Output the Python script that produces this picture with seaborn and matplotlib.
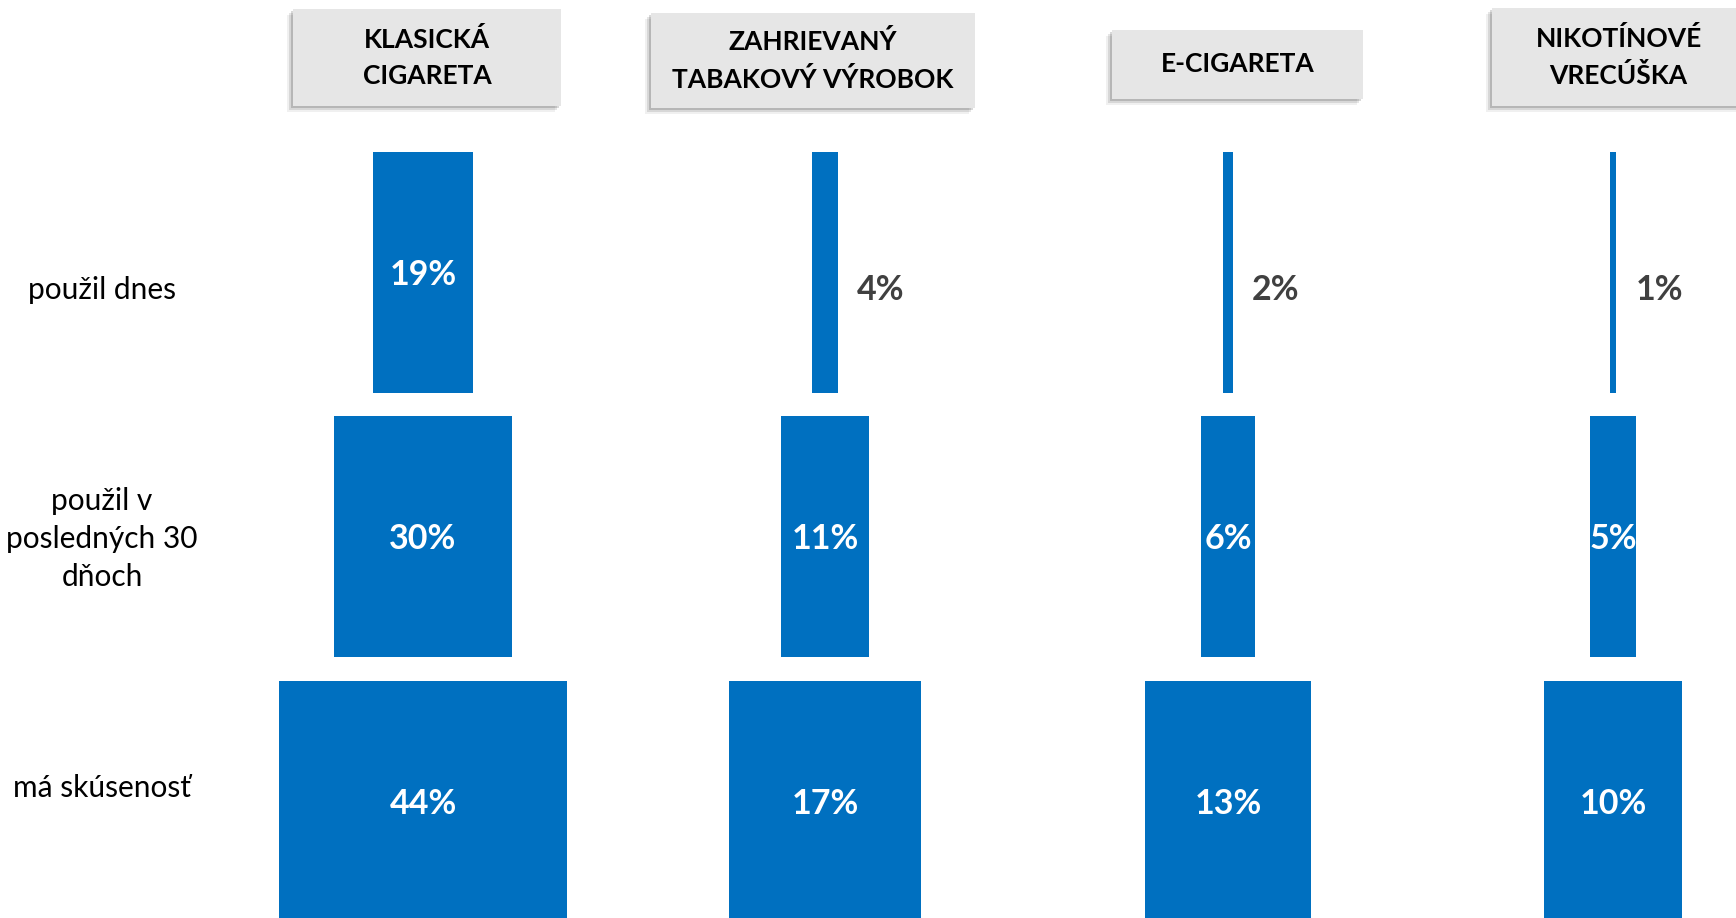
import numpy as np
import pandas as pd
import matplotlib
matplotlib.use('Agg')
import matplotlib.pyplot as plt
from matplotlib.patches import Rectangle
import seaborn as sns

sns.set_theme(style='white')
plt.rcParams['font.family'] = ['Lato', 'DejaVu Sans']

# Data
products = ['KLASICKÁ\nCIGARETA', 'ZAHRIEVANÝ\nTABAKOVÝ VÝROBOK', 'E-CIGARETA', 'NIKOTÍNOVÉ\nVRECÚŠKA']
stages = ['použil dnes', 'použil v\nposledných 30\ndňoch', 'má skúsenosť']
used_today = [19, 4, 2, 1]
used_30_days = [30, 11, 6, 5]
has_experience = [44, 17, 13, 10]

# Layout (pixels of a 1736x918 figure)
W, H = 1736, 918
col_centers = [423, 825, 1228, 1613]
row_tops = [152, 416, 681]
row_h = 241
cell_w = 320
# half range of each small x axis (each cell had its own scale in the original)
half_range = [[30.1, 24.6, 32.0, 22.9],
              [27.0, 19.8, 17.8, 17.4],
              [24.4, 14.2, 12.6, 11.6]]
boxes = [(293, 9, 561, 106), (651, 13, 975, 108), (1112, 30, 1363, 99), (1492, 8, 1745, 106)]
blue = '#0070C0'

fig = plt.figure(figsize=(W / 100, H / 100), dpi=100)

#Draw the funnel bars, one small axes per cell
for r, vals in enumerate([used_today, used_30_days, has_experience]):
    for c, v in enumerate(vals):
        cx = col_centers[c]
        ax = fig.add_axes([(cx - cell_w / 2) / W, 1 - (row_tops[r] + row_h) / H, cell_w / W, row_h / H])
        d = pd.DataFrame({'x': [v / 2, -v / 2], 'y': [0, 0], 'side': ['r', 'l']})
        sns.barplot(data=d, x='x', y='y', hue='side', orient='h', dodge=False,
                    palette=[blue, blue], width=1, legend=False, saturation=1,
                    linewidth=0, ax=ax)
        ax.set_xlim(-half_range[r][c], half_range[r][c])
        ax.set_ylim(0.5, -0.5)
        ax.axis('off')
        if v < 5:
            ax.annotate(f'{v}%', xy=(v / 2, 0), xytext=(19, -18), textcoords='offset pixels',
                        ha='left', va='center', color='#404040', fontweight='bold', fontsize=24.5,
                        annotation_clip=False)
        else:
            ax.text(0, 0.01, f'{v}%', ha='center', va='center', color='white',
                    fontweight='bold', fontsize=24.5, clip_on=False)

#Row labels
for y, s in zip([290, 539, 788], stages):
    fig.text(102 / W, 1 - y / H, s, ha='center', va='center', multialignment='center',
             fontsize=21.5, color='black', linespacing=1.45)

#Header boxes with soft shadow
for (x0, y0, x1, y1), name in zip(boxes, products):
    for k, a in [(6, 0.06), (4, 0.1), (2, 0.15)]:
        fig.patches.append(Rectangle(((x0 - k) / W, 1 - (y1 + k) / H), (x1 - x0) / W, (y1 - y0) / H,
                                     transform=fig.transFigure, facecolor='black', alpha=a,
                                     edgecolor='none'))
    fig.patches.append(Rectangle((x0 / W, 1 - y1 / H), (x1 - x0) / W, (y1 - y0) / H,
                                 transform=fig.transFigure, facecolor='#e6e6e6', edgecolor='none'))
    fig.text((x0 + x1) / 2 / W, 1 - (y0 + y1) / 2 / H, name, ha='center', va='center',
             multialignment='center', fontsize=19, fontweight='bold', color='black',
             linespacing=1.6)

fig.savefig('out.png', dpi=100)
